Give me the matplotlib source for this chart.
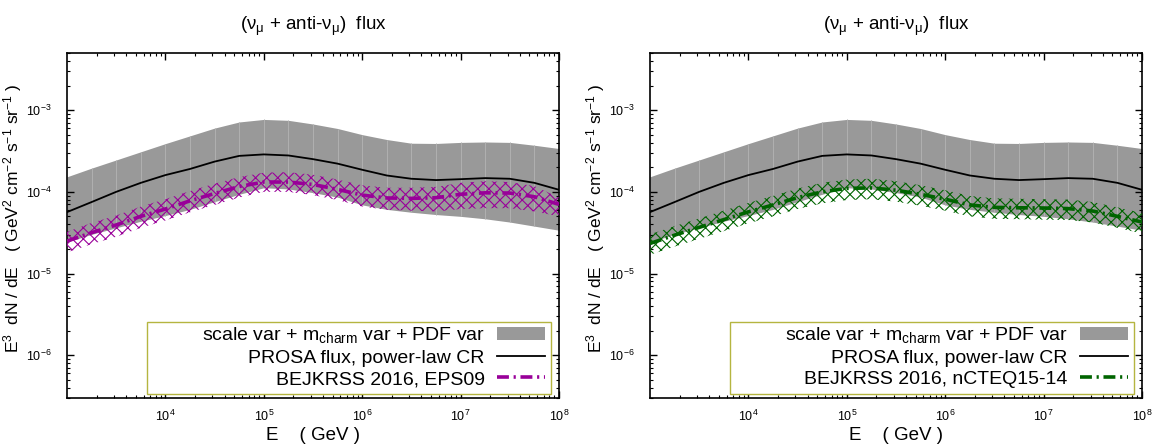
import numpy as np
import matplotlib.pyplot as plt
from matplotlib.patches import Patch, Rectangle
from matplotlib.lines import Line2D

plt.rcParams['font.family'] = ['Liberation Sans', 'DejaVu Sans']
plt.rcParams['mathtext.fontset'] = 'custom'
plt.rcParams['mathtext.rm'] = 'Liberation Sans'
plt.rcParams['mathtext.it'] = 'Liberation Sans:italic'
plt.rcParams['mathtext.bf'] = 'Liberation Sans:bold'
plt.rcParams['hatch.linewidth'] = 0.8

# log10(E / GeV)
log_e = [3.0, 3.25, 3.5, 3.75, 4.0, 4.25, 4.5, 4.75, 5.0, 5.25, 5.5,
         5.75, 6.0, 6.25, 6.5, 6.75, 7.0, 7.25, 7.5, 7.75, 8.0]

# log10 of E^3 dN/dE
prosa = [-4.248, -4.125, -4.00, -3.89, -3.795, -3.72, -3.63, -3.56, -3.542, -3.555, -3.60,
         -3.655, -3.73, -3.80, -3.84, -3.856, -3.845, -3.832, -3.84, -3.89, -3.975]
band_hi = [-3.816, -3.71, -3.61, -3.51, -3.41, -3.315, -3.22, -3.145, -3.114, -3.125, -3.17,
           -3.225, -3.30, -3.36, -3.405, -3.408, -3.395, -3.39, -3.395, -3.43, -3.47]
band_lo = [-4.615, -4.52, -4.44, -4.36, -4.29, -4.215, -4.12, -4.03, -3.95, -3.965, -4.01,
           -4.065, -4.16, -4.215, -4.25, -4.278, -4.30, -4.33, -4.37, -4.42, -4.47]

eps09 = [-4.603, -4.50, -4.405, -4.30, -4.21, -4.11, -4.02, -3.935, -3.88, -3.88, -3.91,
         -3.97, -4.04, -4.075, -4.08, -4.072, -4.03, -4.012, -4.015, -4.06, -4.154]
eps09_hi = [-4.49, -4.38, -4.29, -4.18, -4.09, -3.99, -3.90, -3.82, -3.765, -3.76, -3.79,
            -3.85, -3.92, -3.95, -3.95, -3.94, -3.89, -3.87, -3.88, -3.93, -4.07]
eps09_lo = [-4.74, -4.64, -4.55, -4.44, -4.35, -4.25, -4.16, -4.07, -4.00, -4.00, -4.04,
            -4.10, -4.18, -4.22, -4.23, -4.24, -4.21, -4.20, -4.20, -4.24, -4.30]

ncteq = [-4.632, -4.53, -4.435, -4.34, -4.245, -4.16, -4.07, -4.00, -3.958, -3.952, -3.98,
         -4.03, -4.09, -4.16, -4.19, -4.195, -4.198, -4.205, -4.235, -4.30, -4.37]
ncteq_hi = [-4.52, -4.42, -4.325, -4.23, -4.135, -4.05, -3.96, -3.89, -3.85, -3.84, -3.87,
            -3.92, -3.98, -4.05, -4.08, -4.085, -4.09, -4.095, -4.125, -4.19, -4.26]
ncteq_lo = [-4.77, -4.67, -4.575, -4.48, -4.385, -4.30, -4.21, -4.14, -4.10, -4.09, -4.12,
            -4.17, -4.23, -4.30, -4.33, -4.335, -4.34, -4.345, -4.375, -4.44, -4.51]

labels_band = r"scale var + m$_{\mathrm{charm}}$ var + PDF var"
label_prosa = "PROSA flux, power-law CR"
panels = [
    (eps09, eps09_hi, eps09_lo, '#990099', "BEJKRSS 2016, EPS09"),
    (ncteq, ncteq_hi, ncteq_lo, '#006400', "BEJKRSS 2016, nCTEQ15-14"),
]

E = 10 ** np.array(log_e)
p = lambda v: 10 ** np.array(v)
dashdot = (0, (3.3, 1.3, 0.6, 1.3))

fig = plt.figure(figsize=(11.53, 4.45), dpi=100)
lefts = [67 / 1153, 650 / 1153]
for (cen, hi, lo, col, lab), x0 in zip(panels, lefts):
    ax = fig.add_axes([x0, 47 / 445, 492 / 1153, 345 / 445])
    ax.set_xscale('log')
    ax.set_yscale('log')

    ax.fill_between(E, p(band_lo), p(band_hi), color='#999999', lw=0, zorder=1)
    ax.vlines(E[1:-1], p(band_lo)[1:-1], p(band_hi)[1:-1], colors='#b0b0b0', lw=0.7, zorder=1.5)
    ax.plot(E, p(prosa), color='black', lw=1.3, zorder=3)
    ax.fill_between(E, p(lo), p(hi), facecolor='none', edgecolor=col, hatch='xxx', lw=0, zorder=4)
    ax.plot(E, p(cen), color=col, lw=2.6, ls=dashdot, zorder=5)

    ax.set_xlim(1e3, 1e8)
    ax.set_ylim(3e-7, 5e-3)
    ax.set_xticks([1e4, 1e5, 1e6, 1e7, 1e8])
    ax.tick_params(which='both', direction='in', top=True, right=True, labelsize=9)
    ax.tick_params(which='major', length=5, width=1)
    ax.tick_params(which='minor', length=2.5, width=0.8)
    ax.tick_params(axis='y', pad=11)
    ax.tick_params(axis='x', pad=8)
    for s in ax.spines.values():
        s.set_linewidth(1.2)

    ax.set_title(r"($\mathrm{\nu_{\mu}}$ + anti-$\mathrm{\nu_{\mu}}$)  flux", fontsize=13.5, pad=16.5)
    ax.set_xlabel("E    ( GeV )", fontsize=13.5)
    ax.xaxis.set_label_coords(0.5, -0.085)
    ax.set_ylabel(r"E$^3$  dN / dE   ( GeV$^2$ cm$^{-2}$ s$^{-1}$ sr$^{-1}$ )", fontsize=12.5)
    ax.yaxis.set_label_coords(-0.088, 0.52)

    # legend box (gnuplot-style key frame wider than its entries)
    ax.add_patch(Rectangle((0.1626, 0.0116), 0.8211, 0.2094, transform=ax.transAxes,
                           facecolor='white', edgecolor='#b5b540', lw=1.0, zorder=6))
    handles = [Patch(facecolor='#999999', edgecolor='none'),
               Line2D([], [], color='black', lw=1.3),
               Line2D([], [], color=col, lw=2.6, ls=dashdot)]
    leg = ax.legend(handles, [labels_band, label_prosa, lab], loc='lower right',
                    bbox_to_anchor=(0.9837, 0.0116), borderaxespad=0, markerfirst=False,
                    fontsize=14, frameon=False, handlelength=2.5, handletextpad=0.6,
                    labelspacing=0.2, borderpad=0.3)
    leg.set_zorder(7)

plt.savefig('out.png', dpi=100)
